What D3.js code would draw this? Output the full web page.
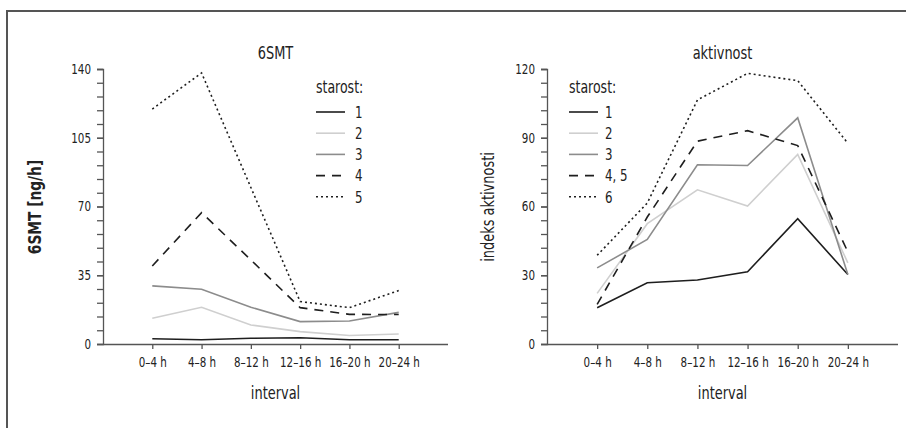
<!DOCTYPE html>
<html>
<head>
<meta charset="utf-8">
<script src="https://cdn.jsdelivr.net/npm/d3@7"></script>
<style>
  body { margin: 0; background: #fff; }
  svg text { font-family: "DejaVu Sans Condensed", "DejaVu Sans", sans-serif; font-stretch: condensed; fill: #222; }
</style>
</head>
<body>
<div id="dataviz"></div>
<script>
// data
var intervals = ["0\u20134 h", "4\u20138 h", "8\u201312 h", "12\u201316 h", "16\u201320 h", "20\u201324 h"];

// 6SMT [ng/h] by age group
var smtLabels = ["1", "2", "3", "4", "5"];
var smt1 = [2.7, 2.2, 2.9, 3.2, 2.2, 2.2];
var smt2 = [13.1, 18.7, 9.7, 6.3, 4.3, 5.1];
var smt3 = [29.6, 27.9, 18.7, 11.4, 11.7, 16.1];
var smt4 = [39.7, 66.9, 42.8, 18.5, 15.1, 15.0];
var smt5 = [119.6, 138, 79.7, 21.6, 18.5, 27.2];
var smtTicks = [0, 35, 70, 105, 140];

// activity index by age group
var aktLabels = ["1", "2", "3", "4, 5", "6"];
var akt1 = [15.8, 26.7, 27.9, 31.5, 54.7, 30.3];
var akt2 = [22.1, 52.5, 67.3, 60.2, 82.7, 35.4];
var akt3 = [33.2, 45.6, 78.2, 77.9, 98.7, 30.3];
var akt45 = [17.3, 55.4, 88.5, 93.1, 86.6, 40.2];
var akt6 = [38.7, 61.5, 106.5, 118.1, 114.9, 87.6];
var aktTicks = [0, 30, 60, 90, 120];

// line styles per series (same order in both charts)
var strokes = ["#1e1e1e", "#cfcfcf", "#8c8c8c", "#1e1e1e", "#1e1e1e"];
var dashes = [null, null, null, "9,7", "2,3"];

var svg = d3.select("#dataviz")
.append("svg")
    .attr("width", 906)
    .attr("height", 428);

// frame round the figure
svg.append("path")
    .attr("d", "M7,428 L7,11 L906,11")
    .attr("fill", "none")
    .attr("stroke", "#555")
    .attr("stroke-width", 2);

// the original font is a narrow one, so squeeze the text a bit
function label(g, x, y, str, size, sx, extra){
    return g.append("text")
        .attr("transform", "translate(" + x + "," + y + ")" + (extra || "") + " scale(" + sx + ",1)")
        .text(str)
            .style("font-size", size + "px");
}

function drawChart(opt){

    var g = svg.append("g");

    var x = d3.scalePoint()
    .domain(intervals)
    .range([opt.left, opt.right])
    .padding(1);

    var y = d3.scaleLinear()
    .domain([0, opt.max])
    .range([344, 69]);

    // Y axis: minor ticks
    g.append("g")
        .attr("transform", "translate(" + opt.left + ",0)")
        .call(d3.axisLeft(y).tickValues(d3.range(0, opt.max + 0.01, opt.minor)).tickSize(6).tickFormat(""));
    // Y axis labels
    var yAxis = g.append("g")
        .attr("transform", "translate(" + opt.left + ",0)")
        .call(d3.axisLeft(y).tickValues(opt.ticks).tickSize(6).tickPadding(5));
    yAxis.select(".domain").remove();
    yAxis.selectAll(".tick text")
        .attr("x", -12 / 0.82)
        .attr("transform", "scale(0.82,1)");

    // X axis
    var xAxis = g.append("g")
        .attr("transform", "translate(0,344)")
        .call(d3.axisBottom(x).tickSize(5).tickPadding(8).tickSizeOuter(0));
    xAxis.select(".domain").attr("d", "M" + opt.left + ",0.5H" + opt.right);
    xAxis.selectAll(".tick text")
        .attr("transform", "scale(0.82,1)");

    g.selectAll(".domain, .tick line")
        .attr("stroke", "#555")
        .attr("stroke-width", 1.3);
    g.selectAll(".tick text")
        .style("font-size", "14px")
        .attr("fill", "#222");

    var mid = (opt.left + opt.right) / 2;

    // title
    label(g, mid, 59, opt.title, 18, 0.8)
        .style("text-anchor", "middle");

    // x axis label
    label(g, mid, 399, "interval", 18, 0.8)
        .style("text-anchor", "middle");

    // y axis label
    label(g, opt.yLabelX, 207, opt.yLabel, 18, opt.yLabelScale, " rotate(-90)")
        .style("font-weight", opt.yLabelWeight)
        .style("text-anchor", "middle");

    // lines
    var line = d3.line()
    .x(function(d, i){ return x(intervals[i]); })
    .y(function(d){ return y(d); });

    g.selectAll(".series")
    .data(opt.series)
    .enter()
    .append("path")
        .classed("series", true)
        .attr("d", line)
        .attr("fill", "none")
        .attr("stroke", function(d, i){ return strokes[i]; })
        .attr("stroke-width", 1.6)
        .attr("stroke-dasharray", function(d, i){ return dashes[i]; });

    // legend
    var lg = g.append("g")
        .attr("transform", "translate(" + opt.legendX + ",0)");

    label(lg, 0, 93, "starost:", 17, 0.82);

    var items = lg.selectAll(".item")
    .data(opt.labels)
    .enter()
    .append("g")
        .classed("item", true)
        .attr("transform", function(d, i){ return "translate(0," + (112 + i * 21.2) + ")"; });

    items.append("line")
        .attr("x1", 0)
        .attr("x2", 29)
        .attr("stroke", function(d, i){ return strokes[i]; })
        .attr("stroke-width", 1.6)
        .attr("stroke-dasharray", function(d, i){ return dashes[i]; });

    items.append("text")
        .attr("transform", "translate(" + opt.legendText + ",0) scale(0.82,1)")
        .attr("dy", "0.36em")
        .text(function(d){ return d; })
            .style("font-size", "16px");
}

drawChart({
    left: 103, right: 448, max: 140, minor: 7, ticks: smtTicks,
    series: [smt1, smt2, smt3, smt4, smt5], labels: smtLabels,
    yLabel: "6SMT [ng/h]", yLabelX: 41, yLabelWeight: "bold", yLabelScale: 0.85,
    title: "6SMT", legendX: 316, legendText: 39
});

drawChart({
    left: 547, right: 898, max: 120, minor: 6, ticks: aktTicks,
    series: [akt1, akt2, akt3, akt45, akt6], labels: aktLabels,
    yLabel: "indeks aktivnosti", yLabelX: 494, yLabelWeight: "normal", yLabelScale: 0.8,
    title: "aktivnost", legendX: 569, legendText: 36
});
</script>
</body>
</html>
